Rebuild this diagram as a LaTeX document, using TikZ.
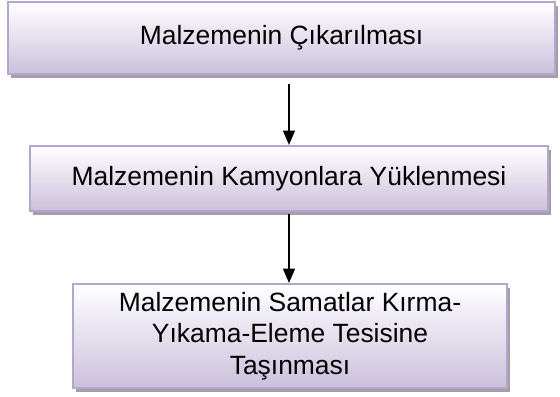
\documentclass[tikz,border=0pt]{standalone}
\usepackage{fontspec}
\setmainfont{Liberation Sans}
\usepackage{tikz}
\usetikzlibrary{arrows.meta,shadows}
\usetikzlibrary{positioning}
\definecolor{lavborder}{HTML}{B5A6CE}
\definecolor{lavbottom}{HTML}{CBC0DC}
\definecolor{shadowgray}{HTML}{A39EAC}
\tikzset{
    stage/.style={
           rectangle,
           draw=lavborder, line width=1.4pt,
           top color=white, bottom color=lavbottom,
           drop shadow={shadow xshift=0.07cm, shadow yshift=-0.11cm,
                        fill=shadowgray, opacity=1},
           inner sep=2pt,
           align=center,
           font=\fontsize{18.8}{22.4}\selectfont,
           },
}

\begin{document}
\begin{tikzpicture}[->,>={Triangle[width=0.3cm,length=0.36cm]}, line width=1.1pt]
 \useasboundingbox (0,0) rectangle (14,-9.9);

 % first step: digging
 \node[stage,    	% layout (defined above)
  minimum width=13.675cm, % box width
  minimum height=1.8cm,
  anchor=center] (CIKARMA) at (7.04,-0.95)
 {Malzemenin Çıkarılması};

 % second step: loading
 \node[stage,
  minimum width=12.95cm,
  minimum height=1.625cm,
  below of=CIKARMA, 	% Position is below CIKARMA
  node distance=3.51cm, 	% distance to CIKARMA
  xshift=0.185cm,
  anchor=center] (YUKLEME)
 {Malzemenin Kamyonlara Yüklenmesi};

 % third step: transport
 \node[stage,
  minimum width=10.85cm,
  minimum height=2.6cm,
  below of=YUKLEME,
  node distance=3.94cm,
  xshift=0.025cm,
  anchor=center] (TASIMA)
 {Malzemenin Samatlar Kırma-\\Yıkama-Eleme Tesisine\\Taşınması};

 % draw the arrows between the steps
 \path
 (CIKARMA.south -| YUKLEME.north)	edge[shorten <=0.22cm]	(YUKLEME.north)
 (YUKLEME.south)	edge[shorten <=0.06cm]	(TASIMA.north -| YUKLEME.south)
 ;
\end{tikzpicture}
\end{document}
